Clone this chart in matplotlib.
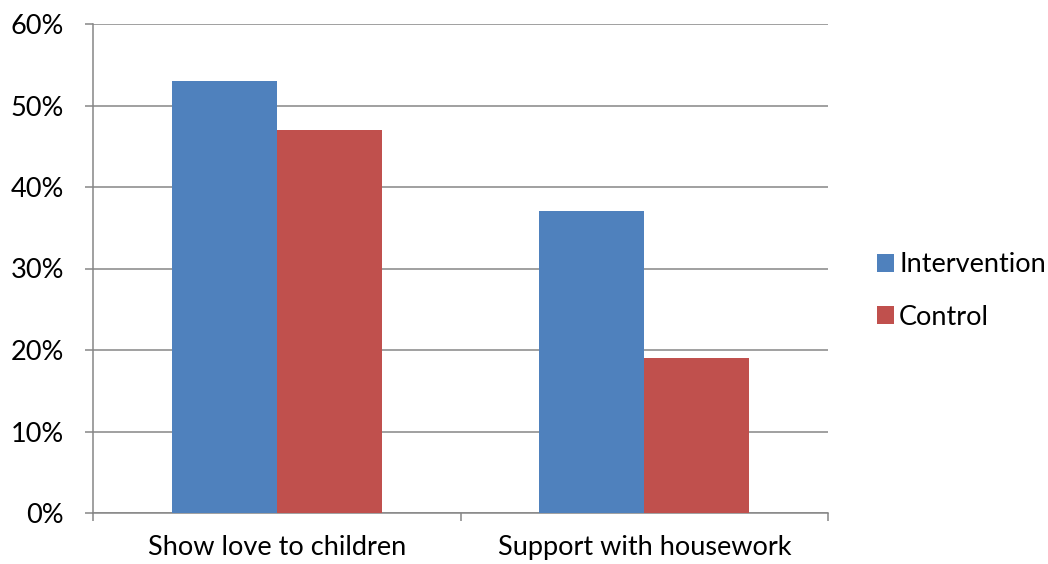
import matplotlib
matplotlib.use("Agg")
import matplotlib.pyplot as plt
import numpy as np
from matplotlib.ticker import FuncFormatter, FixedLocator

categories = ["Show love to children", "Support with housework"]
intervention = [53, 37]
control = [47, 19]
series_names = ["Intervention", "Control"]
colors = ["#4F81BD", "#C0504D"]
yticks = [0, 10, 20, 30, 40, 50, 60]

plt.rcParams['font.family'] = ['Lato', 'DejaVu Sans']
FS = 19.5

fig = plt.figure(figsize=(10.48, 5.64), dpi=100)
ax = fig.add_axes([93/1048, 1-513/564, (828-93)/1048, (513-24)/564])

x = np.arange(len(categories))
w = 0.286
ax.bar(x - w/2, intervention, w, color=colors[0], label=series_names[0], zorder=3)
ax.bar(x + w/2, control, w, color=colors[1], label=series_names[1], zorder=3)

grid_c = "#868686"
ax.set_ylim(0, 60)
ax.set_xlim(-0.5, len(categories) - 0.5)
ax.set_yticks(yticks)
ax.yaxis.set_major_formatter(FuncFormatter(lambda v, p: f"{int(v)}%"))
ax.yaxis.grid(True, color=grid_c, linewidth=1.1, zorder=0)
ax.tick_params(axis='y', length=6, width=1.1, color=grid_c, pad=15, labelsize=FS, labelcolor="black")

ax.xaxis.set_major_locator(FixedLocator(np.arange(len(categories) + 1) - 0.5))
ax.xaxis.set_minor_locator(FixedLocator(x))
ax.set_xticklabels([], minor=False)
ax.set_xticklabels(categories, minor=True)
ax.tick_params(axis='x', which='major', length=6, width=1.1, color=grid_c)
ax.tick_params(axis='x', which='minor', length=0, pad=16, labelsize=FS, labelcolor="black")

for s in ['top', 'right']:
    ax.spines[s].set_visible(False)
for s in ['left', 'bottom']:
    ax.spines[s].set_color(grid_c)
    ax.spines[s].set_linewidth(1.1)

leg = fig.legend(loc='center left', bbox_to_anchor=(853/1048, 1-291/564), frameon=False,
                 fontsize=FS, handlelength=0.6, handleheight=0.6, handletextpad=0.2,
                 labelspacing=1.0)

fig.savefig("out.png", dpi=100)
